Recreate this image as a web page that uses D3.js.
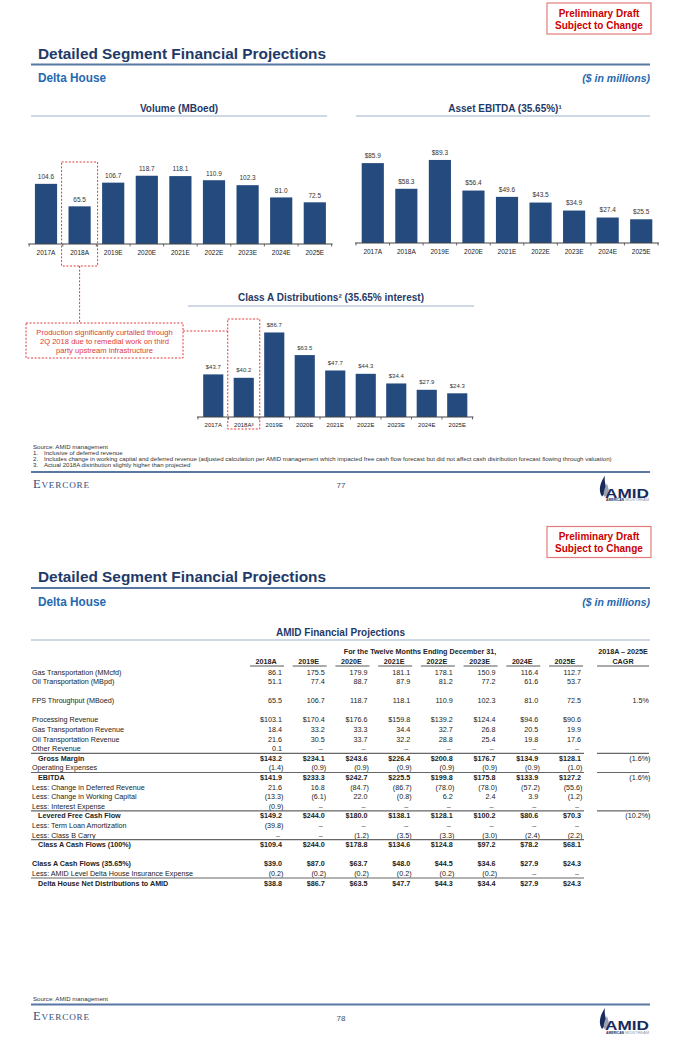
<!DOCTYPE html>
<html>
<head>
<meta charset="utf-8">
<script src="https://cdn.jsdelivr.net/npm/d3@7"></script>
<style>
  body { margin: 0; background: #fff; }
  svg { display: block; }
</style>
</head>
<body>
<svg id="page" width="680" height="1049"></svg>
<script>
// values
var years = ["2017A", "2018A", "2019E", "2020E", "2021E", "2022E", "2023E", "2024E", "2025E"];
var volume = [104.6, 65.5, 106.7, 118.7, 118.1, 110.9, 102.3, 81.0, 72.5];
var assetEbitda = [85.9, 58.3, 89.3, 56.4, 49.6, 43.5, 34.9, 27.4, 25.5];
var classADist = [43.7, 40.2, 86.7, 63.5, 47.7, 44.3, 34.4, 27.9, 24.3];

var tableYears = ["2018A", "2019E", "2020E", "2021E", "2022E", "2023E", "2024E", "2025E"];
var rowLabels = [
  "Gas Transportation (MMcfd)",
  "Oil Transportation (MBpd)",
  "FPS Throughput (MBoed)",
  "Processing Revenue",
  "Gas Transportation Revenue",
  "Oil Transportation Revenue",
  "Other Revenue",
  "Gross Margin",
  "Operating Expenses",
  "EBITDA",
  "Less: Change in Deferred Revenue",
  "Less: Change in Working Capital",
  "Less: Interest Expense",
  "Levered Free Cash Flow",
  "Less: Term Loan Amortization",
  "Less: Class B Carry",
  "Class A Cash Flows (100%)",
  "Class A Cash Flows (35.65%)",
  "Less: AMID Level Delta House Insurance Expense",
  "Delta House Net Distributions to AMID"
];
// null = shown as a dash
var rowValues = [
  [86.1, 175.5, 179.9, 181.1, 178.1, 150.9, 116.4, 112.7],
  [51.1, 77.4, 88.7, 87.9, 81.2, 77.2, 61.6, 53.7],
  [65.5, 106.7, 118.7, 118.1, 110.9, 102.3, 81.0, 72.5],
  [103.1, 170.4, 176.6, 159.8, 139.2, 124.4, 94.6, 90.6],
  [18.4, 33.2, 33.3, 34.4, 32.7, 26.8, 20.5, 19.9],
  [21.6, 30.5, 33.7, 32.2, 28.8, 25.4, 19.8, 17.6],
  [0.1, null, null, null, null, null, null, null],
  [143.2, 234.1, 243.6, 226.4, 200.8, 176.7, 134.9, 128.1],
  [-1.4, -0.9, -0.9, -0.9, -0.9, -0.9, -0.9, -1.0],
  [141.9, 233.3, 242.7, 225.5, 199.8, 175.8, 133.9, 127.2],
  [21.6, 16.8, -84.7, -86.7, -78.0, -78.0, -57.2, -55.6],
  [-13.3, -6.1, 22.0, -0.8, 6.2, 2.4, 3.9, -1.2],
  [-0.9, null, null, null, null, null, null, null],
  [149.2, 244.0, 180.0, 138.1, 128.1, 100.2, 80.6, 70.3],
  [-39.8, null, null, null, null, null, null, null],
  [null, null, -1.2, -3.5, -3.3, -3.0, -2.4, -2.2],
  [109.4, 244.0, 178.8, 134.6, 124.8, 97.2, 78.2, 68.1],
  [39.0, 87.0, 63.7, 48.0, 44.5, 34.6, 27.9, 24.3],
  [-0.2, -0.2, -0.2, -0.2, -0.2, -0.2, null, null],
  [38.8, 86.7, 63.5, 47.7, 44.3, 34.4, 27.9, 24.3]
];
var rowCagr = [null, null, 1.5, null, null, null, null, -1.6, null, -1.6, null, null, null, -10.2, null, null, null, null, null, null];

var footnotes = [
  "Inclusive of deferred revenue",
  "Includes change in working capital and deferred revenue (adjusted calculation per AMID management which impacted free cash flow forecast but did not affect cash distribution forecast flowing through valuation)",
  "Actual 2018A distribution slightly higher than projected"
];

// ---- styling ----
var FONT = "'Liberation Sans', Arial, sans-serif";
var NAVY = "#1f3a68", BLUE = "#2569b0", BAR = "#254a7e", RULE = "#5877a3",
    LIGHT = "#9fb3cd", RED = "#e03a3a", INK = "#222";

var svg = d3.select("#page").attr("font-family", FONT);
svg.append("rect").attr("width", 680).attr("height", 1049).attr("fill", "#fff");

function txt(g, x, y, s, size, opt) {
  opt = opt || {};
  var t = g.append("text").attr("x", x).attr("y", y).attr("font-size", size)
    .attr("fill", opt.fill || INK).text(s);
  if (opt.bold) t.attr("font-weight", "bold");
  if (opt.italic) t.attr("font-style", "italic");
  if (opt.anchor) t.attr("text-anchor", opt.anchor);
  if (opt.len) t.attr("textLength", opt.len).attr("lengthAdjust", "spacingAndGlyphs");
  return t;
}
function line(g, x1, y1, x2, y2, stroke, w, dash) {
  var l = g.append("line").attr("x1", x1).attr("y1", y1).attr("x2", x2).attr("y2", y2)
    .attr("stroke", stroke).attr("stroke-width", w);
  if (dash) l.attr("stroke-dasharray", dash);
  return l;
}

function header(off) {
  var g = svg.append("g").attr("transform", "translate(0," + off + ")");
  g.append("rect").attr("x", 547).attr("y", 3).attr("width", 104).attr("height", 31)
    .attr("fill", "#fff").attr("stroke", "#e47c7c").attr("stroke-width", 1.2);
  txt(g, 599, 16.5, "Preliminary Draft", 10, { bold: true, fill: "#cc0000", anchor: "middle" });
  txt(g, 599, 28.5, "Subject to Change", 10, { bold: true, fill: "#cc0000", anchor: "middle" });
  txt(g, 38, 58.5, "Detailed Segment Financial Projections", 15.2, { bold: true, fill: NAVY, len: 288 });
  line(g, 31, 64.5, 650, 64.5, RULE, 2);
  txt(g, 38, 82.3, "Delta House", 12, { bold: true, fill: BLUE, len: 68 });
  txt(g, 650, 82, "($ in millions)", 10.5, { bold: true, italic: true, fill: BLUE, anchor: "end" });
}

function amidLogo(g, x, y) {
  var l = g.append("g").attr("transform", "translate(" + x + "," + y + ")");
  l.append("path").attr("d", "M4,21 C0,15 2,7 7,0 C6,6 8,9 8,13 C8,17 6,19 4,21 Z").attr("fill", "#1b2a5c");
  l.append("path").attr("d", "M6,21 C5,17 7,12 9,8 C10,12 12,15 10,19 C9,20 8,21 6,21 Z").attr("fill", "#9aa3b3");
  txt(l, 7, 22, "AMID", 13.5, { bold: true, fill: "#1b2a5c", len: 44 });
  txt(l, 8, 25.5, "AMERICAN", 2.6, { bold: true, fill: "#1b2a5c", len: 18 });
  txt(l, 27, 25.5, "MIDSTREAM", 2.6, { fill: "#8f98aa", len: 24 });
}

// ruleY is the page-relative y of the footer rule
function footer(off, ruleY, num) {
  var g = svg.append("g").attr("transform", "translate(0," + off + ")");
  line(g, 31, ruleY, 650, ruleY, RULE, 2);
  var e = g.append("text").attr("x", 33).attr("y", ruleY + 15.5).attr("fill", "#34507d")
    .attr("font-family", "'Liberation Serif', 'DejaVu Serif', serif").attr("letter-spacing", 0.8);
  e.append("tspan").attr("font-size", 12.5).text("E");
  e.append("tspan").attr("font-size", 9.2).text("VERCORE");
  txt(g, 341, ruleY + 16, num, 8, { fill: "#3d4f6b", anchor: "middle" });
  amidLogo(g, 598, ruleY + 3.5);
}

// ---- bar charts ----
function barChart(cfg) {
  var g = svg.append("g");
  var x = d3.scaleBand().domain(years).range([cfg.x0, cfg.x1]).paddingInner(0.34).paddingOuter(0.17);
  var y = d3.scaleLinear().domain([0, 100]).range([cfg.axisY, cfg.axisY - cfg.h100]);

  g.selectAll("rect").data(cfg.values).enter().append("rect")
    .attr("x", function(d, i) { return x(years[i]); })
    .attr("y", function(d) { return y(d); })
    .attr("width", x.bandwidth())
    .attr("height", function(d) { return y(0) - y(d); })
    .attr("fill", BAR);

  g.selectAll("text.val").data(cfg.values).enter().append("text")
    .attr("class", "val")
    .attr("x", function(d, i) { return x(years[i]) + x.bandwidth() / 2; })
    .attr("y", function(d) { return y(d) - cfg.labelGap; })
    .attr("text-anchor", "middle").attr("font-size", cfg.fs).attr("fill", "#333")
    .text(function(d) { return cfg.prefix + d3.format(".1f")(d); });

  var axis = d3.axisBottom(x).tickSize(0).tickSizeOuter(0).tickPadding(cfg.pad)
    .tickFormat(cfg.tickFormat || function(d) { return d; });
  var ax = g.append("g").attr("transform", "translate(0," + cfg.axisY + ")").call(axis)
    .attr("font-family", FONT).attr("font-size", cfg.fs);
  ax.select(".domain").attr("stroke", "#444").attr("stroke-width", 1)
    .attr("d", "M" + (cfg.x0 - 1) + ",0H" + (cfg.x1 + 1));
  ax.selectAll("text").attr("fill", INK);

  // little ticks between the categories
  g.selectAll("line.sep").data(d3.range(years.length + 1)).enter().append("line")
    .attr("class", "sep")
    .attr("x1", function(i) { return cfg.x0 + i * x.step(); })
    .attr("x2", function(i) { return cfg.x0 + i * x.step(); })
    .attr("y1", cfg.axisY).attr("y2", cfg.axisY + 2.5)
    .attr("stroke", "#444").attr("stroke-width", 0.8);
  return x;
}

header(0);

// chart headings
txt(svg, 179, 111.5, "Volume (MBoed)", 10, { bold: true, fill: NAVY, anchor: "middle" });
line(svg, 31, 116, 327, 116, LIGHT, 1.2);
txt(svg, 505, 111.5, "Asset EBITDA (35.65%)\u00b9", 10, { bold: true, fill: NAVY, anchor: "middle" });
line(svg, 356, 116, 650, 116, LIGHT, 1.2);

var xVol = barChart({ values: volume, x0: 29.2, x1: 331.6, axisY: 244, h100: 57.5, prefix: "", fs: 6.5, pad: 6.7, labelGap: 4.7 });
barChart({ values: assetEbitda, x0: 356, x1: 658, axisY: 243, h100: 93, prefix: "$", fs: 6.5, pad: 6.7, labelGap: 5.2 });

txt(svg, 331, 300.5, "Class A Distributions\u00b2 (35.65% interest)", 10, { bold: true, fill: NAVY, anchor: "middle" });
line(svg, 188, 306, 474, 306, LIGHT, 1.2);

var xCls = barChart({ values: classADist, x0: 198, x1: 472.5, axisY: 417, h100: 97.5, prefix: "$", fs: 6, pad: 5.8, labelGap: 5.5,
  tickFormat: function(d) { return d === "2018A" ? "2018A\u00b3" : d; } });

// call-out boxes around 2018A
var DASH = "2,1.6";
var vx = xVol("2018A") + xVol.bandwidth() / 2;
svg.append("rect").attr("x", vx - 18).attr("y", 162).attr("width", 36).attr("height", 104)
  .attr("fill", "none").attr("stroke", RED).attr("stroke-width", 1).attr("stroke-dasharray", DASH);
line(svg, vx, 266, vx, 323, RED, 1, DASH);
svg.append("rect").attr("x", 26).attr("y", 323).attr("width", 157).attr("height", 35)
  .attr("fill", "none").attr("stroke", RED).attr("stroke-width", 1).attr("stroke-dasharray", DASH);
var callout = ["Production significantly curtailed through", "2Q 2018 due to remedial work on third", "party upstream infrastructure"];
callout.forEach(function(s, i) { txt(svg, 104.5, 334.7 + i * 9, s, 7.6, { fill: RED, anchor: "middle" }); });
var cx = xCls("2018A") + xCls.bandwidth() / 2;
line(svg, 183, 331, cx - 16, 331, RED, 1, DASH);
svg.append("rect").attr("x", cx - 16).attr("y", 319).attr("width", 32).attr("height", 110)
  .attr("fill", "none").attr("stroke", RED).attr("stroke-width", 1).attr("stroke-dasharray", DASH);

// footnotes
var FN = 6.1;
txt(svg, 33, 449, "Source: AMID management", FN, { fill: "#333" });
footnotes.forEach(function(s, i) {
  txt(svg, 33, 455 + i * 6, (i + 1) + ".", FN, { fill: "#333" });
  txt(svg, 44, 455 + i * 6, s, FN, { fill: "#333" });
});
footer(0, 472, "77");

// ---- page 2: table ----
var P2 = 523.5;
header(P2);
txt(svg, 340.5, 635.5, "AMID Financial Projections", 10, { bold: true, fill: NAVY, anchor: "middle" });
line(svg, 31, 640, 650, 640, LIGHT, 1.2);

var colRight = d3.scalePoint().domain(tableYears).range([282, 581]);
var cagrX0 = 597, cagrX1 = 649;
var FS = 7.2;

txt(svg, 420, 653.5, "For the Twelve Months Ending December 31,", FS, { bold: true, anchor: "middle" });
txt(svg, (cagrX0 + cagrX1) / 2, 653.5, "2018A \u2013 2025E", FS, { bold: true, anchor: "middle" });
txt(svg, (cagrX0 + cagrX1) / 2, 663.5, "CAGR", FS, { bold: true, anchor: "middle" });
line(svg, cagrX0, 666, cagrX1, 666, "#444", 0.9);
tableYears.forEach(function(yr) {
  var r = colRight(yr);
  txt(svg, r - 16, 663.5, yr, FS, { bold: true, anchor: "middle" });
  line(svg, r - 32, 666, r + 2, 666, "#444", 0.9);
});

var totals = ["Gross Margin", "EBITDA", "Levered Free Cash Flow", "Class A Cash Flows (100%)", "Delta House Net Distributions to AMID"];
var boldRows = totals.concat(["Class A Cash Flows (35.65%)"]);
var dollarRows = ["Processing Revenue", "Class A Cash Flows (35.65%)"].concat(totals);
var gapBefore = ["FPS Throughput (MBoed)", "Processing Revenue", "Class A Cash Flows (35.65%)"];
var rowY = d3.scaleLinear().domain([0, 22]).range([672, 883]);

function fmt(v, dollar) {
  if (v === null) return "\u2013";
  var s = d3.format(".1f")(Math.abs(v));
  return v < 0 ? "(" + s + ")" : (dollar ? "$" : "") + s;
}

var slot = -1;
rowLabels.forEach(function(label, r) {
  slot += gapBefore.indexOf(label) >= 0 ? 2 : 1;
  var yc = rowY(slot), yb = yc + 2.5;
  var isTotal = totals.indexOf(label) >= 0;
  var bold = boldRows.indexOf(label) >= 0;
  var dollar = dollarRows.indexOf(label) >= 0;
  if (isTotal) {
    line(svg, 31, yc - 5, 584, yc - 5, "#666", 1.2);
    if (rowCagr[r] !== null) line(svg, cagrX0, yc - 5, cagrX1, yc - 5, "#666", 1.2);
  }
  txt(svg, isTotal ? 38 : 32, yb, label, FS, { bold: bold });
  rowValues[r].forEach(function(v, c) {
    var xr = colRight(tableYears[c]);
    if (v === null) txt(svg, xr - 2, yb, fmt(v), FS, { anchor: "end", fill: "#444" });
    else txt(svg, v < 0 ? xr + 1.5 : xr, yb, fmt(v, dollar), FS, { bold: bold, anchor: "end" });
  });
  if (rowCagr[r] !== null) {
    var cv = rowCagr[r];
    var cs = cv < 0 ? "(" + d3.format(".1f")(-cv) + "%)" : d3.format(".1f")(cv) + "%";
    txt(svg, cv < 0 ? cagrX1 + 1.5 : cagrX1, yb, cs, FS, { anchor: "end" });
  }
});

txt(svg, 33, 1001, "Source: AMID management", FN, { fill: "#333" });
footer(P2, 481, "78");
</script>
</body>
</html>
